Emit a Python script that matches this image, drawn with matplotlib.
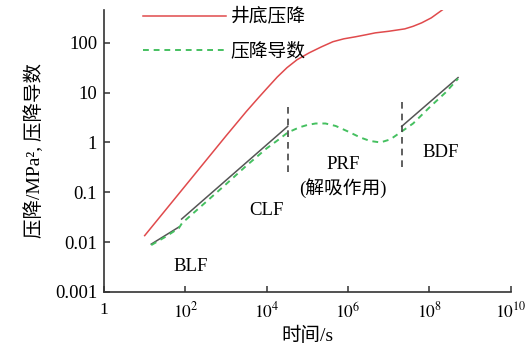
import numpy as np
import matplotlib
matplotlib.use("Agg")
import matplotlib.pyplot as plt

plt.rcParams['font.family'] = ['Liberation Serif', 'Noto Sans CJK SC', 'DejaVu Sans']
plt.rcParams['mathtext.fontset'] = 'stix'

# 井底压降 (time s, MPa^2)
red_t = [10, 100, 1e3, 3.16e3, 6.3e3, 1e4, 1.82e4, 3.16e4, 5.6e4, 1.12e5, 2.24e5, 4.27e5,
         7.9e5, 1.55e6, 2.8e6, 4.7e6, 1e7, 2.5e7, 4e7, 6.5e7, 1.12e8, 2.1e8]
red_p = [0.0135, 0.135, 1.35, 4.17, 7.9, 12, 20.5, 31.6, 45.7, 63, 83, 105,
         120, 132, 145, 158, 170, 190, 214, 251, 316, 457]

# 压降导数
der_t = [14.5, 31.6, 69, 83, 316, 1e3, 3.16e3, 1e4, 2e4, 3.3e4, 6.3e4, 1e5, 1.6e5, 2.8e5,
         5e5, 1e6, 2e6, 3.5e6, 6.3e6, 1.1e7, 2.1e7, 4e7, 1e8, 2.5e8, 5.1e8]
der_p = [0.0087, 0.0126, 0.019, 0.024, 0.063, 0.145, 0.34, 0.76, 1.15, 1.58, 2.0, 2.24, 2.4, 2.4,
         2.14, 1.66, 1.26, 1.07, 1.0, 1.15, 1.66, 2.4, 5.0, 10, 19]

# 拟合直线
blf_t = [14.5, 69]
blf_p = [0.0091, 0.02]
clf_t = [81, 3.3e4]
clf_p = [0.029, 2.1]
bdf_t = [2.1e7, 5.1e8]
bdf_p = [2.1, 20]

# 分段竖线
sep_t = [3.3e4, 2.1e7]
sep_lo = [0.26, 0.32]
sep_hi = [6.6, 7.6]

regions = ['BLF', 'CLF', 'PRF\n(解吸作用)', 'BDF']
region_t = [1.35e2, 9.8e3, 7.6e5, 1.95e8]
region_p = [0.0033, 0.044, 0.2, 0.63]

xticks = [1, 1e2, 1e4, 1e6, 1e8, 1e10]
xticklabels = ['1', '$10^{2}$', '$10^{4}$', '$10^{6}$', '$10^{8}$', '$10^{10}$']
yticks = [0.001, 0.01, 0.1, 1, 10, 100]
yticklabels = ['0.001', '0.01', '0.1', '1', '10', '100']

fig = plt.figure(figsize=(5.28, 3.53), dpi=100)
ax = fig.add_axes([0.197, 0.173, 0.77, 0.799])

ax.plot(red_t, red_p, color='#e04a4c', lw=1.1, label='井底压降')
ax.plot(blf_t, blf_p, color='#555555', lw=1.1)
ax.plot(clf_t, clf_p, color='#555555', lw=1.1)
ax.plot(bdf_t, bdf_p, color='#555555', lw=1.1)
ax.plot(der_t, der_p, color='#45c060', lw=1.4, ls=(0, (3, 2.5)), label='压降导数')
ax.vlines(sep_t, sep_lo, sep_hi, colors='#444444', lw=1.2, linestyles=(0, (4, 3)))

for txt, t, p in zip(regions, region_t, region_p):
    ax.text(t, p, txt, ha='center', va='center', fontsize=13.5, linespacing=1.3)

ax.set_xscale('log')
ax.set_yscale('log')
ax.set_xlim(1, 1e10)
ax.set_ylim(0.001, 457)
ax.set_xticks(xticks)
ax.set_xticklabels(xticklabels)
ax.set_yticks(yticks)
ax.set_yticklabels(yticklabels)
ax.minorticks_off()
ax.tick_params(direction='in', length=4, width=1.1, labelsize=13.5, color='#333333')
ax.tick_params(axis='x', pad=7, labelsize=12.5)
ax.tick_params(axis='y', pad=5)

for s in ['top', 'right']:
    ax.spines[s].set_visible(False)
for s in ['left', 'bottom']:
    ax.spines[s].set_linewidth(1.2)
    ax.spines[s].set_color('#333333')

ax.set_xlabel('时间/s', fontsize=14, labelpad=4)
ax.set_ylabel('压降/MPa², 压降导数', fontsize=14, labelpad=8)

ax.legend(loc='upper left', bbox_to_anchor=(0.097, 1.005), frameon=False, fontsize=13.5,
          handlelength=4.4, handletextpad=0.25, labelspacing=0.85, borderpad=0, borderaxespad=0)

fig.savefig('out.png', dpi=100)
